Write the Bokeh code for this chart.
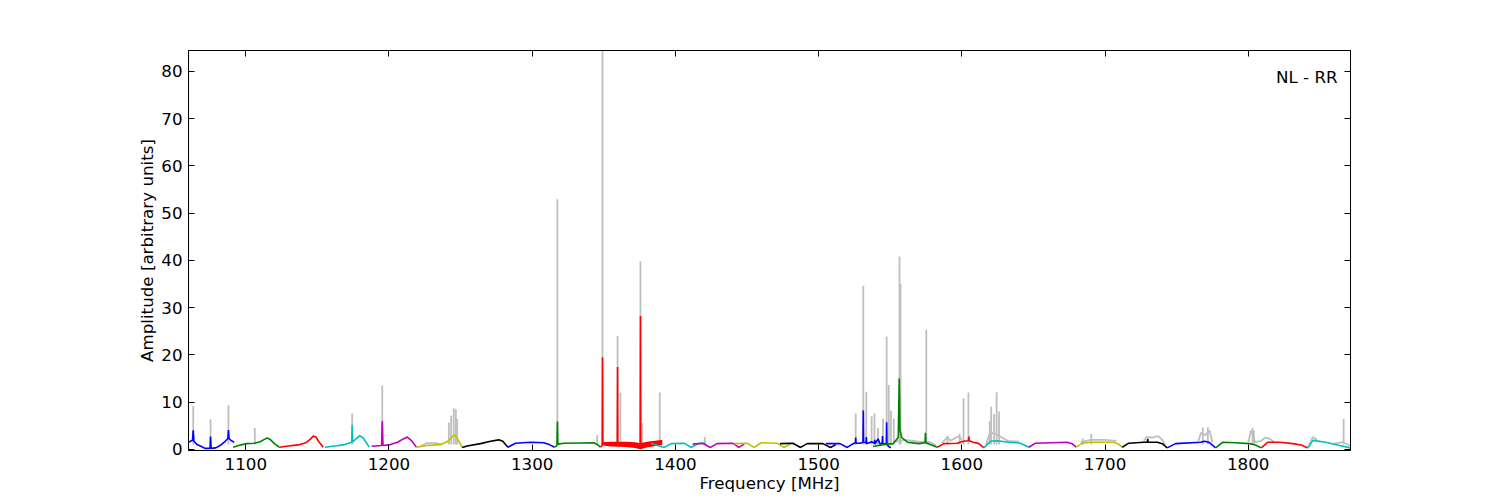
from bokeh.plotting import figure
from bokeh.models import Range1d, FixedTicker, LinearAxis, Label
from bokeh.embed import file_html
from bokeh.resources import INLINE

# ---------------- data ----------------
SUBBAND_COLORS = ["#0000ff", "#008000", "#ff0000", "#00bfbf", "#bf00bf", "#bfbf00", "#000000"]

SUBBAND_FREQS = [
    [1060.0, 1062.8, 1063.3, 1063.8, 1066.0, 1069.0, 1071.5, 1075.0, 1075.4, 1075.8, 1079.0, 1082.0, 1085.0, 1087.5, 1087.9, 1088.3, 1090.0, 1091.9],
    [1091.2, 1095.0, 1100.5, 1106.0, 1110.0, 1113.0, 1115.0, 1117.0, 1120.0, 1123.3],
    [1123.3, 1128.4, 1137.7, 1142.0, 1145.0, 1147.1, 1149.0, 1151.0, 1154.1],
    [1155.2, 1162.0, 1169.0, 1174.0, 1174.3, 1174.6, 1177.0, 1179.6, 1182.0, 1184.0, 1186.2],
    [1187.8, 1194.8, 1195.3, 1195.8, 1201.0, 1206.0, 1210.0, 1212.8, 1215.5, 1219.2],
    [1219.2, 1226.2, 1236.0, 1240.6, 1243.0, 1245.7, 1247.5, 1249.0, 1251.1],
    [1251.1, 1254.6, 1263.9, 1270.9, 1276.7, 1279.5, 1283.0],
    [1283.0, 1288.3, 1298.8, 1308.1, 1312.0, 1315.6],
    [1315.6, 1317.3, 1317.6, 1317.9, 1322.0, 1333.7, 1343.0, 1345.5, 1347.7],
    [1347.7, 1348.9, 1349.1, 1349.3, 1352.0, 1359.4, 1359.6, 1359.8, 1365.0, 1372.0, 1375.4, 1375.6, 1375.8, 1380.0, 1386.0, 1390.8],
    [1383.0, 1392.0, 1397.0, 1406.0, 1411.0, 1416.0, 1421.0],
    [1412.0, 1419.0, 1424.5, 1429.0, 1440.0, 1444.3, 1448.0],
    [1441.0, 1450.0, 1454.8, 1460.0, 1471.0, 1475.7, 1480.0],
    [1473.0, 1482.0, 1487.4, 1492.0, 1503.0, 1508.3, 1512.0],
    [1505.0, 1515.0, 1520.0, 1523.0, 1525.7, 1525.9, 1526.1, 1529.0, 1531.0, 1531.2, 1531.4, 1533.1, 1533.3, 1533.5,
     1537.0, 1539.0, 1539.2, 1539.4, 1541.5, 1543.0, 1544.4, 1544.6, 1544.8, 1547.3, 1547.5, 1547.7, 1549.0, 1550.5],
    [1538.0, 1545.0, 1552.0, 1555.6, 1556.3, 1556.8, 1558.0, 1562.0, 1570.0, 1574.3, 1574.6, 1574.9, 1578.0, 1582.8],
    [1582.8, 1587.4, 1596.7, 1601.0, 1604.6, 1604.9, 1605.2, 1608.0, 1612.0, 1615.4],
    [1615.4, 1620.0, 1624.7, 1633.0, 1641.0, 1646.8],
    [1646.8, 1651.4, 1662.0, 1673.6, 1677.0, 1679.9],
    [1679.9, 1684.1, 1690.0, 1700.0, 1706.0, 1709.0, 1712.0],
    [1712.0, 1716.6, 1727.0, 1729.5, 1729.8, 1730.1, 1736.5, 1740.0, 1743.4],
    [1743.4, 1749.2, 1766.7, 1769.5, 1772.5, 1777.2],
    [1777.2, 1782.3, 1791.0, 1801.0, 1805.0, 1809.1],
    [1809.1, 1813.7, 1822.0, 1831.1, 1837.0, 1841.6],
    [1841.6, 1845.2, 1854.0, 1863.8, 1871.4],
]

SUBBAND_AMPS = [
    [1.5, 1.9, 4.0, 1.7, 1.0, 0.6, 0.2, 0.2, 2.7, 0.2, 0.3, 0.8, 1.5, 2.3, 4.1, 2.3, 1.8, 1.5],
    [0.45, 0.8, 1.2, 1.3, 1.6, 2.1, 2.4, 2.1, 1.2, 0.45],
    [0.45, 0.65, 1.0, 1.4, 2.1, 2.8, 2.6, 1.6, 0.45],
    [0.45, 0.7, 1.0, 1.5, 5.2, 1.6, 2.2, 2.9, 2.4, 1.5, 0.45],
    [0.65, 0.8, 6.0, 0.8, 1.0, 1.5, 2.2, 2.6, 1.9, 0.45],
    [0.45, 0.8, 1.0, 1.6, 2.3, 3.1, 2.4, 1.6, 0.4],
    [0.4, 0.7, 1.2, 1.7, 2.0, 1.7, 0.45],
    [0.45, 1.3, 1.5, 1.4, 1.0, 0.45],
    [0.45, 0.8, 5.9, 1.1, 1.3, 1.35, 1.4, 1.0, 0.45],
    [0.45, 0.8, 19.5, 1.2, 1.4, 1.4, 17.4, 1.4, 1.3, 1.0, 0.6, 28.2, 0.6, 1.1, 1.4, 1.7],
    [1.3, 0.4, 1.2, 1.3, 0.4, 1.2, 1.3],
    [1.1, 1.3, 0.4, 1.2, 1.3, 0.4, 1.1],
    [1.2, 1.3, 0.4, 1.4, 1.3, 0.4, 1.1],
    [1.2, 1.3, 0.4, 1.2, 1.2, 0.4, 1.0],
    [1.2, 1.2, 0.4, 1.0, 1.4, 2.5, 1.3, 1.3, 1.5, 8.2, 1.5, 1.4, 2.6, 1.2,
     1.6, 1.3, 2.0, 1.1, 2.2, 1.1, 1.3, 2.8, 1.1, 1.2, 5.7, 1.0, 0.6, 0.3],
    [0.6, 1.0, 1.2, 2.5, 15.0, 4.0, 2.5, 1.5, 1.2, 1.4, 3.5, 1.4, 1.0, 0.45],
    [0.45, 1.2, 1.3, 1.7, 1.8, 2.7, 1.8, 1.5, 1.2, 0.3],
    [0.3, 1.7, 1.8, 1.5, 1.3, 0.45],
    [0.45, 1.3, 1.4, 1.5, 1.2, 0.45],
    [0.45, 1.3, 1.5, 1.5, 1.5, 1.2, 0.45],
    [0.45, 1.3, 1.5, 1.5, 2.2, 1.5, 1.5, 1.2, 0.3],
    [0.3, 1.2, 1.5, 1.7, 1.5, 0.3],
    [0.3, 1.5, 1.4, 1.2, 0.9, 0.3],
    [0.3, 1.5, 1.5, 1.2, 0.9, 0.3],
    [0.3, 1.9, 1.5, 0.8, 0.3],
]

# noisy red sub-band (1350-1390 MHz): envelope of the dense trace
RED_BAND_FREQS = [1349.5, 1355.0, 1365.0, 1372.0, 1375.6, 1380.0, 1386.0, 1390.8]
RED_BAND_LOW = [0.8, 0.6, 0.5, 0.3, 0.0, 0.4, 0.7, 0.9]
RED_BAND_HIGH = [1.5, 1.6, 1.6, 1.5, 1.3, 1.6, 1.8, 2.0]

# raw (uncleaned) data: narrow RFI spikes
SPIKE_FREQS = [1063.3, 1075.4, 1087.9, 1106.3, 1174.3, 1195.3, 1241.8, 1243.4, 1245.2, 1246.7, 1247.6,
               1317.6, 1345.4, 1349.1, 1359.6, 1361.6, 1375.6, 1376.9, 1389.1, 1420.5,
               1525.9, 1531.2, 1533.3, 1537.0, 1539.0, 1541.5, 1545.0, 1547.5, 1549.0, 1550.5, 1552.5,
               1556.5, 1557.2, 1575.2, 1590.0, 1598.5, 1601.2, 1604.6, 1619.5, 1620.5, 1622.5, 1624.3, 1626.0,
               1684.5, 1690.4, 1768.3, 1771.8, 1803.0, 1804.0, 1866.6]
SPIKE_PEAKS = [9.2, 6.3, 9.3, 4.5, 7.6, 13.5, 5.7, 7.1, 8.7, 8.5, 6.4,
               52.9, 3.0, 84.4, 24.0, 12.0, 39.8, 5.5, 12.0, 2.6,
               7.6, 34.6, 12.2, 7.0, 7.6, 4.5, 6.5, 23.9, 13.6, 8.2, 6.5,
               40.8, 35.0, 25.3, 2.8, 3.3, 10.8, 12.0, 6.0, 9.0, 7.5, 12.1, 8.0,
               2.3, 3.3, 4.6, 4.7, 4.5, 4.0, 6.4]

# raw data: broader elevated regions
RAW_FREQS = [
    [1222.0, 1226.0, 1233.0, 1237.0],
    [1552.0, 1560.0, 1570.0, 1578.0, 1582.0],
    [1586.0, 1590.0, 1592.0, 1598.0, 1600.0],
    [1617.0, 1619.0, 1622.0, 1625.0, 1628.0, 1632.0, 1640.0],
    [1683.0, 1690.0, 1700.0, 1708.0],
    [1727.0, 1729.0, 1733.0, 1737.0, 1740.0, 1742.0],
    [1765.0, 1767.0, 1770.0, 1773.0, 1775.0],
    [1800.0, 1802.0, 1805.0, 1809.0, 1812.0, 1815.0, 1818.0],
    [1842.0, 1845.0, 1848.0],
    [1860.0, 1866.0, 1871.0],
]
RAW_AMPS = [
    [0.6, 1.3, 1.3, 1.0],
    [1.5, 2.0, 1.6, 1.5, 0.8],
    [1.3, 2.6, 1.8, 2.8, 2.0],
    [1.0, 3.0, 3.5, 3.0, 2.5, 1.8, 1.6],
    [1.5, 2.0, 2.0, 1.8],
    [1.8, 2.6, 2.5, 2.8, 2.0, 1.0],
    [1.6, 3.5, 3.0, 4.0, 1.5],
    [1.5, 4.0, 1.5, 1.8, 2.5, 2.2, 1.6],
    [0.5, 2.6, 2.0],
    [1.2, 1.5, 0.8],
]
SPIKE_BASE = 1.0

X_TICKS = [1100, 1200, 1300, 1400, 1500, 1600, 1700, 1800]
Y_TICKS = [0, 10, 20, 30, 40, 50, 60, 70, 80]
X_LIMITS = (1060.0, 1871.4)
Y_LIMITS = (-0.25, 84.4)

# ---------------- figure ----------------
FONT = "DejaVu Sans"
FS = "16.7px"
GRAY = "#bfbfbf"

p = figure(width=1492, height=500, frame_width=1162, frame_height=400,
           output_backend="svg", toolbar_location=None,
           x_range=Range1d(*X_LIMITS), y_range=Range1d(*Y_LIMITS),
           min_border_left=188, min_border_right=142, min_border_top=50, min_border_bottom=30,
           background_fill_color="white", border_fill_color="white")
p.grid.visible = False
p.outline_line_color = "black"
p.outline_line_width = 1

# raw data (gray)
p.segment(x0=SPIKE_FREQS, y0=[SPIKE_BASE] * len(SPIKE_FREQS), x1=SPIKE_FREQS, y1=SPIKE_PEAKS,
          line_color=GRAY, line_width=1.8)
p.multi_line(xs=RAW_FREQS, ys=RAW_AMPS, line_color=GRAY, line_width=1.8)

# cleaned sub-bands
colors = [SUBBAND_COLORS[i % len(SUBBAND_COLORS)] for i in range(len(SUBBAND_FREQS))]
p.varea(x=RED_BAND_FREQS, y1=RED_BAND_LOW, y2=RED_BAND_HIGH, fill_color="#ff0000")
p.multi_line(xs=SUBBAND_FREQS, ys=SUBBAND_AMPS, line_color=colors, line_width=1.6)

# axes
def style_axis(ax, show_labels=True):
    ax.axis_line_color = "black"
    ax.major_tick_in = 6
    ax.major_tick_out = 0
    ax.minor_tick_in = 0
    ax.minor_tick_out = 0
    ax.major_tick_line_color = "black"
    ax.major_label_text_font = FONT
    ax.major_label_text_font_size = FS if show_labels else "0px"
    ax.major_label_text_color = "black" if show_labels else None
    ax.axis_label_text_font = FONT
    ax.axis_label_text_font_size = FS
    ax.axis_label_text_font_style = "normal"
    ax.axis_label_text_color = "black"

p.xaxis.ticker = FixedTicker(ticks=X_TICKS)
p.yaxis.ticker = FixedTicker(ticks=Y_TICKS)
p.xaxis.axis_label = "Frequency [MHz]"
p.yaxis.axis_label = "Amplitude [arbitrary units]"
style_axis(p.xaxis[0])
style_axis(p.yaxis[0])
p.xaxis.major_label_standoff = 7
p.xaxis.axis_label_standoff = 0
p.yaxis.major_label_standoff = 6
p.yaxis.axis_label_standoff = 1

top = LinearAxis(ticker=FixedTicker(ticks=X_TICKS))
style_axis(top, show_labels=False)
p.add_layout(top, "above")
right = LinearAxis(ticker=FixedTicker(ticks=Y_TICKS))
style_axis(right, show_labels=False)
p.add_layout(right, "right")

p.add_layout(Label(x=1862.4, y=78.7, text="NL - RR", text_align="right", text_baseline="alphabetic",
                   text_font=FONT, text_font_size=FS, text_color="black"))

open("out.html", "w").write(file_html(p, INLINE))
